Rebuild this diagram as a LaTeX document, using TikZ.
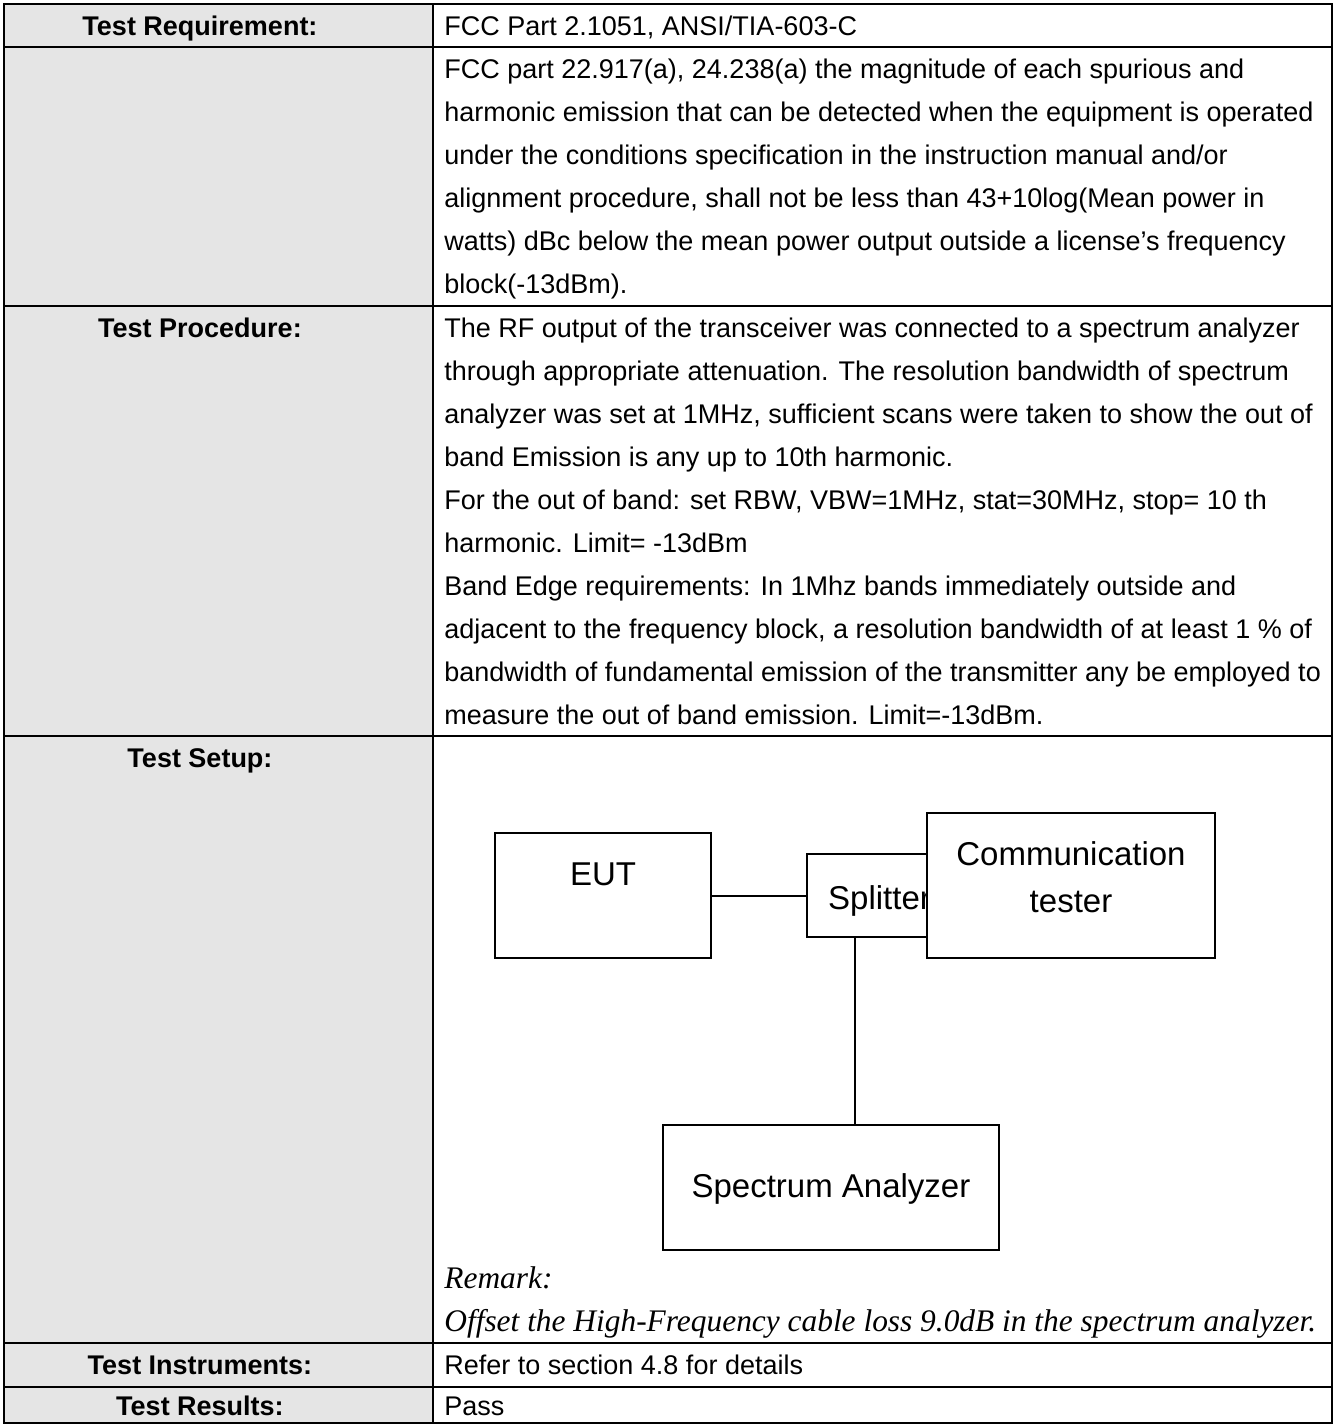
\documentclass[tikz,border=0pt]{standalone}
\usepackage{fontspec}
\setmainfont{Liberation Sans}
\newfontfamily\remarkfont{Liberation Serif}
\usetikzlibrary{positioning}
\tikzset{
    %Define style for the table
    grid/.style={
           draw=black,
           line width=1.4pt,
           },
    head/.style={
           font=\fontsize{13.5}{21.5}\selectfont\bfseries,
           anchor=base,
           inner sep=0pt,
           },
    cell/.style={
           font=\fontsize{13.5}{21.5}\selectfont,
           align=left,
           anchor=north west,
           inner sep=0pt,
           },
    remark/.style={
           font=\fontsize{15.7}{21.5}\selectfont\remarkfont\itshape,
           align=left,
           anchor=north west,
           inner sep=0pt,
           },
    %Define style for boxes
    unit/.style={
           rectangle,
           draw=black, line width=1pt,
           fill=white,
           inner sep=0pt,
           font=\fontsize{16.5}{23.5}\selectfont,
           },
    % Define cable style
    cable/.style={
           line width=1pt,
           },
}
\begin{document}
\begin{tikzpicture}[x=0.5pt,y=-0.5pt]
\useasboundingbox (0,0) rectangle (1336,1426);
% table
\fill[black!10] (4,4) rectangle (433,1423);
\draw[grid] (4,4) rectangle (1332,1423);
\draw[grid] (433,4) -- (433,1423);
\draw[grid] (4,47) -- (1332,47);
\draw[grid] (4,306) -- (1332,306);
\draw[grid] (4,736) -- (1332,736);
\draw[grid] (4,1343) -- (1332,1343);
\draw[grid] (4,1387) -- (1332,1387);
\node[head] (h1) at (200,35) {Test Requirement:};
\node[head] (h2) at (200,337) {Test Procedure:};
\node[head] (h3) at (200,767) {Test Setup:};
\node[head] (h4) at (200,1374) {Test Instruments:};
\node[head] (h5) at (200,1415) {Test Results:};
\node[cell,anchor=base west] (c1) at (444,35) {FCC Part 2.1051, ANSI/TIA-603-C};
\node[cell] (c2) at (444,48) {\strut FCC part 22.917(a), 24.238(a) the magnitude of each spurious and\\
harmonic emission that can be detected when the equipment is operated\\
under the conditions specification in the instruction manual and/or\\
alignment procedure, shall not be less than 43+10log(Mean power in\\
watts) dBc below the mean power output outside a license’s frequency\\
block(-13dBm).};
\node[cell] (c3) at (444,307) {\strut The RF output of the transceiver was connected to a spectrum analyzer\\
through appropriate attenuation. The resolution bandwidth of spectrum\\
analyzer was set at 1MHz, sufficient scans were taken to show the out of\\
band Emission is any up to 10th harmonic.\\
For the out of band: set RBW, VBW=1MHz, stat=30MHz, stop= 10 th\\
harmonic. Limit= -13dBm\\
Band Edge requirements: In 1Mhz bands immediately outside and\\
adjacent to the frequency block, a resolution bandwidth of at least 1 \% of\\
bandwidth of fundamental emission of the transmitter any be employed to\\
measure the out of band emission. Limit=-13dBm.};
\node[remark] (c4) at (444,1258) {\strut Remark:\\
Offset the High-Frequency cable loss 9.0dB in the spectrum analyzer.};
\node[cell,anchor=base west] (c5) at (444,1374) {Refer to section 4.8 for details};
\node[cell,anchor=base west] (c6) at (444,1415) {Pass};
% setup
\node[unit, minimum width=108pt, text height=26pt, text depth=36.5pt] (1) at (603,895.5) {EUT};
\node[unit, minimum width=72.5pt, text height=27.5pt, text depth=14pt] (2) at (879.5,895.5) {Splitter};
\node[unit, minimum width=168pt, text height=36pt, text depth=26.5pt] (4) at (831,1187.5) {Spectrum Analyzer\hspace{6pt}};
\path[cable]
	(1) edge (2);
\draw[cable] ([xshift=-12.25pt]2.south) -- ([xshift=12pt]4.north);
\node[unit, minimum width=144pt, text height=49.5pt, text depth=23pt] (3) at (1071,885.5) {\begin{tabular}[b]{@{}c@{}}Communication\\tester\end{tabular}};
\end{tikzpicture}
\end{document}
